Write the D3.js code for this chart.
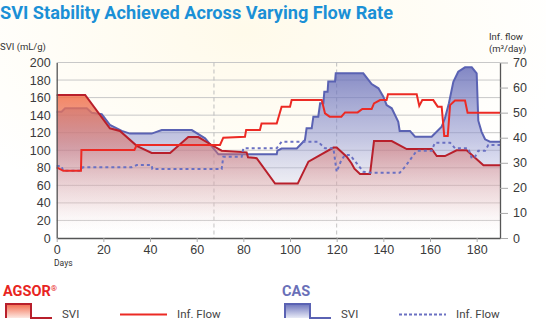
<!DOCTYPE html>
<html>
<head>
<meta charset="utf-8">
<script src="https://cdn.jsdelivr.net/npm/d3@7"></script>
<style>
  body { margin: 0; background: #fff; }
  svg { display: block; font-family: Roboto, "Noto Sans", sans-serif; }
  .axis text { fill: #3a3a3a; font-size: 12.5px; }
</style>
</head>
<body>
<div id="chart"></div>
<script>
// data: [day, value]
const agsorSvi = [[0,163],[12.2,163],[22.8,125],[27.1,122],[34.3,105],[40.7,97],[48.6,97],[56.4,115],[60.7,115],[66.4,106],[70.7,99.5],[81.4,97.6],[82,92],[85.7,91],[93.6,62],[103.3,62],[107.9,87],[118.6,103],[120,103],[124.3,92.6],[126.4,85],[127.6,79],[130,73],[134.3,73],[136,110.5],[143.6,110.5],[150,101.4],[160.7,101.4],[162.9,93.4],[166.4,93.4],[171.4,100],[175.7,100],[182.9,83],[190,83]];
const agsorFlow = [[0,28.2],[2.8,26.8],[10.4,26.8],[10.6,35.1],[33.3,35.1],[34.3,37.1],[70,37.1],[71.4,40],[80.7,40.4],[81.2,43.1],[87.1,43.1],[87.8,45.7],[94.3,45.7],[96.4,52.4],[100,52.4],[100.7,55],[113.6,55],[115,49.7],[117,48.4],[122,48.4],[123.6,50.1],[129,50.1],[131,51.5],[135,51.5],[136,53.7],[138.6,55],[141.4,55],[142,57.3],[154.3,57.3],[155.4,52.7],[156.7,55],[161.4,55],[163.3,52.4],[165,52.4],[166.1,40.7],[167.6,40.7],[168.6,53],[170.7,54.8],[175,54.8],[176.1,50],[190,50]];
const casSvi = [[0,144],[2.1,144],[3.6,147.8],[12.9,147.8],[15,142.8],[19.3,141],[22.8,128.8],[27.9,122],[31.4,119],[40.7,119],[45,123],[57.9,123],[63.6,113.6],[69.3,95.4],[94.3,95.4],[94.6,99.5],[96.4,102],[102.9,102],[106.4,111.7],[107.1,125],[109.3,125],[110,138.2],[112.1,138.2],[112.9,153.5],[114.3,153.5],[114.7,166.7],[116.1,166.7],[116.4,178.3],[119.3,178.3],[119.6,187.7],[131.4,187.7],[135,175.5],[137.9,170.6],[140,161],[141.4,151.6],[143.6,147.8],[146.4,132.5],[147,122],[151.4,122],[153.6,115.4],[160.7,115.4],[165,126.8],[166.4,136.4],[168.1,153.5],[170,178],[172.1,189.5],[175,194.5],[177.9,194.5],[180,187.7],[180.7,133.7],[182.1,121],[183.6,112.5],[185.7,109.8],[190,109.8]];
const casFlow = [[0,28.7],[2,28.7],[2.8,26.8],[10.4,26.8],[11.2,28.2],[32.1,28.2],[34.3,29.1],[40.7,29.1],[41,27.5],[70.7,27.5],[71.4,32.4],[79.3,32.4],[80,35.8],[94.3,35.8],[96.4,38.4],[112,38.4],[115,35.8],[118.6,35.8],[119.3,31.1],[120,26.4],[122,31.1],[123.6,33.1],[125.7,33.1],[128.6,29.8],[131.4,26.4],[135,26],[147,26],[149.3,28.4],[154.3,34.8],[160.7,34.8],[162.1,38],[168.6,38],[170.7,35.8],[176.4,35.8],[177.9,31.8],[179.3,32.4],[180.7,34.8],[183.6,34.8],[185,37.1],[190,37.1]];

const dayTicks = [0,20,40,60,80,100,120,140,160,180];
const sviTicks = [0,20,40,60,80,100,120,140,160,180,200];
const flowTicks = [0,10,20,30,40,50,60,70];
const markerDays = [67.4, 120];

const width = 546, height = 324;
const svg = d3.select("#chart").append("svg").attr("width", width).attr("height", height);

const x = d3.scaleLinear().domain([0, 190]).range([56.7, 500]);
const y = d3.scaleLinear().domain([0, 200]).range([238, 62.5]);
const yR = d3.scaleLinear().domain([0, 70]).range([238, 62.5]);

const defs = svg.append("defs");
const bg = defs.append("radialGradient").attr("id", "bg").attr("cx", "0.45").attr("cy", "0.1").attr("r", "0.6");
bg.append("stop").attr("offset", 0).attr("stop-color", "#fffaea");
bg.append("stop").attr("offset", 1).attr("stop-color", "#ffffff");

function vgrad(id, stops, user) {
  const g = defs.append("linearGradient").attr("id", id).attr("x1", 0).attr("x2", 0);
  if (user) g.attr("gradientUnits", "userSpaceOnUse").attr("y1", y(200)).attr("y2", y(0));
  else g.attr("y1", 0).attr("y2", 1);
  stops.forEach(s => g.append("stop").attr("offset", s[0]).attr("stop-color", s[1]).attr("stop-opacity", s[2]));
}
vgrad("redFill", [[0, "#f4613c", 0.95], [0.2, "#f2744f", 0.85], [0.5, "#d8706a", 0.5], [0.8, "#eab0a8", 0.25], [1, "#ffffff", 0]], true);
vgrad("blueFill", [[0, "#5c63b4", 0.8], [0.45, "#8d93ce", 0.5], [1, "#ffffff", 0]], true);
vgrad("redSwatch", [[0, "#f26a4c", 1], [1, "#fde8e2", 1]]);
vgrad("blueSwatch", [[0, "#6c73bc", 1], [1, "#e8eaf6", 1]]);

svg.append("rect").attr("width", width).attr("height", height).attr("fill", "url(#bg)");

// title
svg.append("text").attr("x", 0).attr("y", 18.5)
  .attr("fill", "#1b90d6").attr("font-size", 17.5).attr("font-weight", 700)
  .attr("textLength", 393).attr("lengthAdjust", "spacingAndGlyphs")
  .text("SVI Stability Achieved Across Varying Flow Rate");

// gridlines
svg.append("g").selectAll("line").data(sviTicks.slice(1)).join("line")
  .attr("x1", x(0)).attr("x2", x(190)).attr("y1", d => y(d)).attr("y2", d => y(d))
  .attr("stroke", "#c8c8c8").attr("stroke-width", 1);

svg.append("g").selectAll("line").data(markerDays).join("line")
  .attr("x1", d => x(d)).attr("x2", d => x(d)).attr("y1", y(200)).attr("y2", y(0))
  .attr("stroke", "#bdbdbd").attr("stroke-dasharray", "4,3");

const area = (sc) => d3.area().x(d => x(d[0])).y0(y(0)).y1(d => sc(d[1]));
const line = (sc) => d3.line().x(d => x(d[0])).y(d => sc(d[1]));

// CAS svi
svg.append("path").datum(casSvi).attr("d", area(y)).attr("fill", "url(#blueFill)");
svg.append("path").datum(casSvi).attr("d", line(y)).attr("fill", "none")
  .attr("stroke", "#5a62b3").attr("stroke-width", 2);

// AGSOR svi
svg.append("path").datum(agsorSvi).attr("d", area(y)).attr("fill", "url(#redFill)");
svg.append("path").datum(agsorSvi).attr("d", line(y)).attr("fill", "none")
  .attr("stroke", "#b81f2b").attr("stroke-width", 2);

// flows
svg.append("path").datum(casFlow).attr("d", line(yR)).attr("fill", "none")
  .attr("stroke", "#6a70c2").attr("stroke-width", 2).attr("stroke-dasharray", "3,3");
svg.append("path").datum(agsorFlow).attr("d", line(yR)).attr("fill", "none")
  .attr("stroke", "#ec2a24").attr("stroke-width", 2);

// axes
const gL = svg.append("g").attr("class", "axis").attr("transform", `translate(${x(0)},0)`)
  .call(d3.axisLeft(y).tickValues(sviTicks).tickSize(0).tickPadding(6));
gL.select(".domain").attr("stroke", "#555").attr("stroke-width", 1.3);

const gR = svg.append("g").attr("class", "axis").attr("transform", `translate(${x(190)},0)`)
  .call(d3.axisRight(yR).tickValues(flowTicks).tickSizeInner(8).tickSizeOuter(0).tickPadding(5));
gR.select(".domain").attr("stroke", "#555").attr("stroke-width", 1.3);
gR.selectAll(".tick line").attr("stroke", "#aaa");

const gB = svg.append("g").attr("class", "axis").attr("transform", `translate(0,${y(0)})`)
  .call(d3.axisBottom(x).tickValues(dayTicks).tickSizeInner(4).tickSizeOuter(0).tickPadding(3));
gB.select(".domain").attr("stroke", "#555").attr("stroke-width", 1.3);
gB.selectAll(".tick line").attr("stroke", "#aaa");

// axis titles
const small = (t, tx, ty, fs) => svg.append("text").attr("x", tx).attr("y", ty)
  .attr("fill", "#333").attr("font-size", fs).text(t);
small("SVI (mL/g)", 0, 50, 9.5);
small("Inf. flow", 489, 40, 9.5);
small("(m³/day)", 489, 51.5, 9.5);
small("Days", 54, 266, 8.5);

// legend
function legendGroup(name, color, gx, swatch, strokeCol, flowDash, flowCol, sup) {
  const g = svg.append("g");
  const t = g.append("text").attr("x", gx).attr("y", 296).attr("fill", color)
    .attr("font-size", 14.5).attr("font-weight", 700).text(name);
  if (sup) t.append("tspan").attr("font-size", 8).attr("dy", -5).attr("font-weight", 400).text(sup);
  const sx = gx + 3;
  g.append("rect").attr("x", sx).attr("y", 304).attr("width", 25).attr("height", 14).attr("fill", `url(#${swatch})`);
  g.append("path").attr("d", `M${sx},318V304H${sx + 25}V318H${sx + 46}`)
    .attr("fill", "none").attr("stroke", strokeCol).attr("stroke-width", 2);
  g.append("text").attr("x", sx + 56).attr("y", 317.5).attr("fill", "#444").attr("font-size", 11.5).text("SVI");
  g.append("line").attr("x1", sx + 114).attr("x2", sx + 161).attr("y1", 314.5).attr("y2", 314.5)
    .attr("stroke", flowCol).attr("stroke-width", 2).attr("stroke-dasharray", flowDash);
  g.append("text").attr("x", sx + 171).attr("y", 317.5).attr("fill", "#444").attr("font-size", 11.5).text("Inf. Flow");
}
legendGroup("AGSOR", "#e8251f", 3, "redSwatch", "#b81f2b", null, "#ec2a24", "®");
legendGroup("CAS", "#6a70b8", 282, "blueSwatch", "#5a62b3", "3,2", "#6a70c2", null);
</script>
</body>
</html>
